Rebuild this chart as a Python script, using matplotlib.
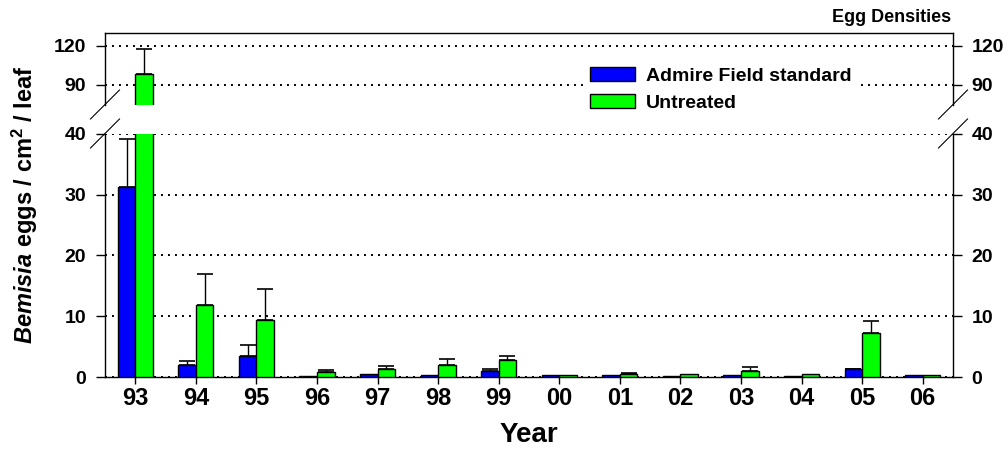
import matplotlib
matplotlib.use("Agg")
import matplotlib.pyplot as plt
from matplotlib.lines import Line2D
from matplotlib.patches import Patch
import numpy as np

plt.rcParams["font.family"] = ["Liberation Sans", "DejaVu Sans"]
plt.rcParams["font.weight"] = "bold"
plt.rcParams["mathtext.fontset"] = "custom"
plt.rcParams["mathtext.rm"] = "Liberation Sans:bold"
plt.rcParams["mathtext.it"] = "Liberation Sans:bold:italic"

years = ["93", "94", "95", "96", "97", "98", "99", "00", "01", "02", "03", "04", "05", "06"]
admire = [31.2, 2.0, 3.4, 0.2, 0.5, 0.4, 1.05, 0.27, 0.27, 0.1, 0.27, 0.1, 1.26, 0.27]
admire_err = [7.9, 0.6, 1.8, 0, 0, 0, 0.2, 0, 0, 0, 0, 0, 0.1, 0]
untreated = [98.5, 11.9, 9.4, 0.8, 1.3, 1.9, 2.75, 0.27, 0.55, 0.45, 1.05, 0.45, 7.3, 0.27]
untreated_err = [19.0, 5.0, 5.1, 0.4, 0.45, 1.1, 0.75, 0, 0.05, 0, 0.55, 0, 1.9, 0]

BLUE = "#0000ff"
GREEN = "#00ff00"
W, H = 1008, 450
bar_w = 0.29

fig = plt.figure(figsize=(W / 100, H / 100), dpi=100)
left, right = 105 / W, 953 / W
ax_top = fig.add_axes([left, 1 - 105 / H, right - left, 72 / H])
ax_bot = fig.add_axes([left, 1 - 377 / H, right - left, 243 / H])


def draw_bars(ax):
    x = np.arange(len(years))
    ax.bar(x, admire, width=-bar_w, align="edge", color=BLUE, edgecolor="black", linewidth=1, zorder=3)
    ax.bar(x, untreated, width=bar_w, align="edge", color=GREEN, edgecolor="black", linewidth=1, zorder=3)
    for offs, vals, errs in [(-bar_w / 2, admire, admire_err), (bar_w / 2, untreated, untreated_err)]:
        xs = [xi + offs for xi, e in zip(x, errs) if e > 0]
        ys = [v for v, e in zip(vals, errs) if e > 0]
        es = [e for e in errs if e > 0]
        ax.errorbar(xs, ys, yerr=[np.zeros(len(es)), es], fmt="none", ecolor="black",
                    elinewidth=1, capsize=6, capthick=1.2, zorder=2)
    ax.set_xlim(-0.5, len(years) - 0.5)
    ax.set_axisbelow(True)
    ax.yaxis.grid(True, linestyle=(0, (1, 2.6)), linewidth=1.4, color="black")
    ax.tick_params(axis="y", left=True, right=True, labelleft=True, labelright=True,
                   direction="out", length=6.5, width=1, labelsize=14, pad=7)
    for s in ax.spines.values():
        s.set_linewidth(1)


draw_bars(ax_top)
draw_bars(ax_bot)

ax_top.set_ylim(74.6, 130)
ax_top.set_yticks([90, 120])
ax_top.spines["bottom"].set_visible(False)
ax_top.tick_params(axis="x", bottom=False, labelbottom=False)

ax_bot.set_ylim(0, 40)
ax_bot.set_yticks([0, 10, 20, 30, 40])
ax_bot.spines["top"].set_visible(False)
ax_bot.set_xticks(np.arange(len(years)))
ax_bot.set_xticklabels(years)
ax_bot.tick_params(axis="x", direction="out", length=5, width=1, labelsize=17, pad=2)
ax_bot.set_xlabel("Year", fontsize=20, fontweight="bold", labelpad=9)

# diagonal break marks on both sides
d = 14.5
for xc in (105, 953):
    for yc in (104.5, 133.5):
        fig.add_artist(Line2D([(xc - d) / W, (xc + d) / W], [1 - (yc + d) / H, 1 - (yc - d) / H],
                              color="black", linewidth=0.8))

handles = [Patch(facecolor=BLUE, edgecolor="black", linewidth=1),
           Patch(facecolor=GREEN, edgecolor="black", linewidth=1)]
leg = ax_top.legend(handles, ["Admire Field standard", "Untreated"], loc="upper left",
                    bbox_to_anchor=(584 / W, 1 - 61 / H), bbox_transform=fig.transFigure,
                    fontsize=14, frameon=True, fancybox=False, framealpha=1,
                    facecolor="white", edgecolor="white", handlelength=2.3, handleheight=0.77,
                    handletextpad=0.6, labelspacing=0.45, borderpad=0.3, borderaxespad=0)
leg.set_zorder(10)

fig.text(25 / W, 1 - 205 / H, r"$\mathit{Bemisia}$ eggs / cm$^{\mathrm{2}}$ / leaf",
         rotation=90, ha="center", va="center", fontsize=17, fontweight="bold")
fig.text(951 / W, 1 - 18 / H, "Egg Densities", ha="right", va="center", fontsize=13, fontweight="bold")

fig.savefig("out.png", dpi=100)
